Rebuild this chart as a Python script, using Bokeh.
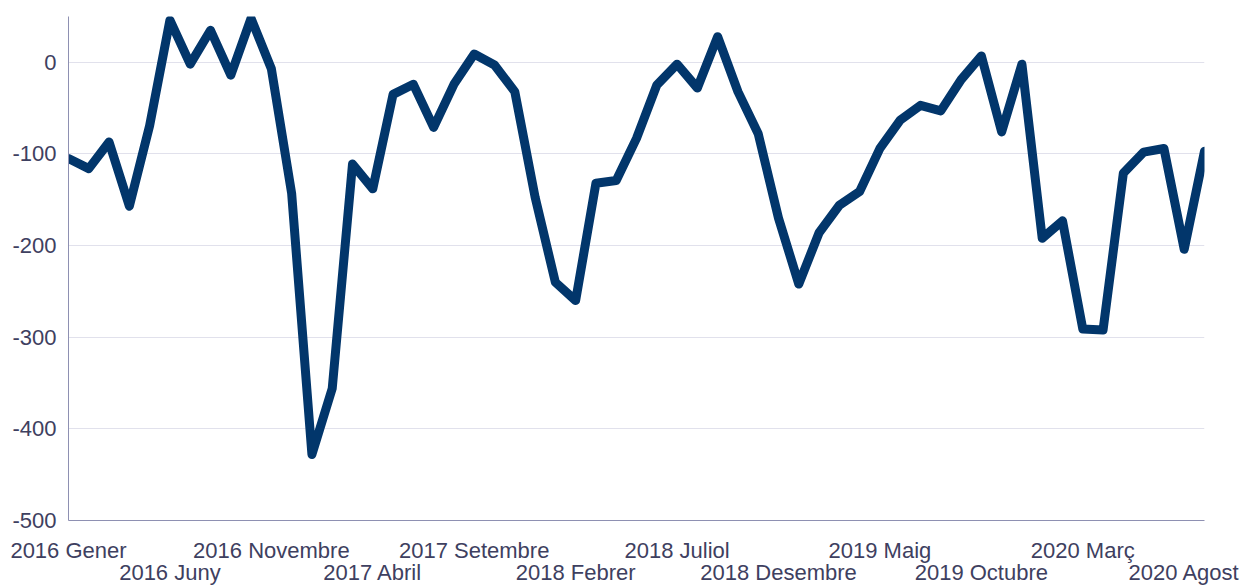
from bokeh.plotting import figure
from bokeh.models import LinearAxis, FixedTicker, Range1d
from bokeh.embed import file_html
from bokeh.resources import INLINE

# Monthly series, 2016 Gener .. 2020 Setembre
values = [
    -105, -116, -87, -157, -69, 46, -2, 35, -14, 48,
    -7, -143, -428, -356, -111, -138, -35, -24, -71, -24,
    9, -3, -32, -147, -240, -260, -132, -129, -83, -25,
    -2, -28, 28, -32, -78, -170, -242, -186, -156, -141,
    -94, -63, -47, -53, -19, 7, -76, -2, -192, -173,
    -291, -292, -121, -98, -94, -204, -97,
]
months_idx = list(range(len(values)))

tick_row1_pos = [0, 10, 20, 30, 40, 50]
tick_row1_lab = ["2016 Gener", "2016 Novembre", "2017 Setembre", "2018 Juliol", "2019 Maig", "2020 Març"]
tick_row2_pos = [5, 15, 25, 35, 45, 55]
tick_row2_lab = ["2016 Juny", "2017 Abril", "2018 Febrer", "2018 Desembre", "2019 Octubre", "2020 Agost"]
y_ticks = [-500, -400, -300, -200, -100, 0]
y_labels = ["-500", "-400", "-300", "-200", "-100", "0"]

FONT = "Liberation Sans"
FS = "22px"
TXT = "#3e4060"
AXC = "#8e90b2"
GRID = "#e1e1ec"

p = figure(width=1240, height=587,
           x_range=Range1d(0, 56), y_range=Range1d(-500, 50),
           output_backend="svg", toolbar_location=None,
           min_border_left=68, min_border_right=36, min_border_top=16, min_border_bottom=67)
p.outline_line_color = None
p.background_fill_color = "white"

p.line(months_idx, values, line_width=9, color="#02366b", line_join="round", line_cap="round")

p.xgrid.visible = False
p.ygrid.ticker = FixedTicker(ticks=y_ticks)
p.ygrid.grid_line_color = GRID
p.ygrid.grid_line_width = 1

ya = p.yaxis[0]
ya.ticker = FixedTicker(ticks=y_ticks)
ya.major_label_overrides = {t: l for t, l in zip(y_ticks, y_labels)}
ya.axis_line_color = AXC
ya.major_tick_line_color = None
ya.minor_tick_line_color = None
ya.major_label_text_font = FONT
ya.major_label_text_font_size = FS
ya.major_label_text_color = TXT
ya.major_label_standoff = 6

xa = p.xaxis[0]
xa.ticker = FixedTicker(ticks=tick_row1_pos)
xa.major_label_overrides = {t: l for t, l in zip(tick_row1_pos, tick_row1_lab)}
xa.axis_line_color = AXC
xa.major_tick_line_color = None
xa.minor_tick_line_color = None
xa.major_label_text_font = FONT
xa.major_label_text_font_size = FS
xa.major_label_text_color = TXT
xa.major_label_standoff = 11

xb = LinearAxis(ticker=FixedTicker(ticks=tick_row2_pos),
                major_label_overrides={t: l for t, l in zip(tick_row2_pos, tick_row2_lab)})
xb.axis_line_color = None
xb.major_tick_line_color = None
xb.minor_tick_line_color = None
xb.major_label_text_font = FONT
xb.major_label_text_font_size = FS
xb.major_label_text_color = TXT
xb.major_label_standoff = -12
p.add_layout(xb, "below")

open("out.html", "w").write(file_html(p, INLINE))
